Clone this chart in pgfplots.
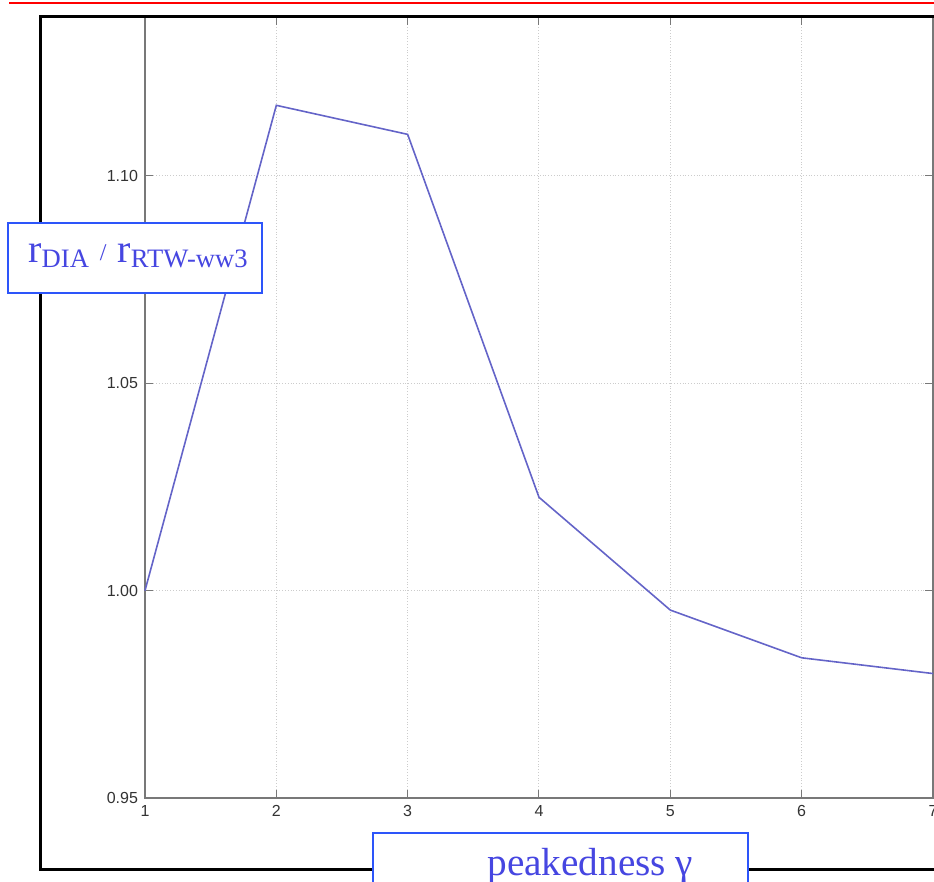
\documentclass[border=0pt]{standalone}
\usepackage{pgfplots}
\pgfplotsset{compat=1.18}
\usepackage{fontspec}
\setmainfont{Liberation Serif}
\setsansfont{Liberation Sans}

\definecolor{curve}{RGB}{100,100,200}
\definecolor{labeltext}{RGB}{70,70,225}
\definecolor{boxedge}{RGB}{45,85,250}
\definecolor{axisgray}{RGB}{120,120,120}

\newcommand{\lbl}[1]{{\fontsize{20}{20}\selectfont #1}}
\newcommand{\sub}[1]{\raisebox{-2.5pt}{\fontsize{13.3}{13.3}\selectfont #1}}

\begin{document}
\begin{tikzpicture}
\useasboundingbox (0,0) rectangle (467pt,441pt);
\clip (0,0) rectangle (467pt,441pt);

\begin{axis}[
  at={(72.5pt,42pt)}, anchor=south west,
  scale only axis, width=394pt, height=390.5pt,
  xmin=1, xmax=7, ymin=0.95, ymax=1.1383,
  xtick={1,2,...,7},
  ytick={0.95,1.00,1.05,1.10},
  yticklabel style={/pgf/number format/.cd, fixed, fixed zerofill, precision=2},
  /pgf/number format/assume math mode=true,
  ticklabel style={font=\sffamily\fontsize{8}{8}\selectfont, text=black!80},
  tick align=inside, major tick length=4pt,
  tick style={axisgray, line width=0.5pt},
  axis line style={axisgray, line width=0.6pt},
  grid=major,
  major grid style={gray!40, densely dotted, line width=0.5pt},
  clip=false,
]
\addplot[curve, line width=0.8pt] coordinates {
  (1,1.000) (2,1.117) (3,1.110) (4,1.0225) (5,0.9953) (6,0.9838) (7,0.9800)
};
\end{axis}

\begin{scope}[x=0.5pt, y=-0.5pt, yshift=441pt]
  % page rule and outer frame
  \draw[red, line width=1pt] (9,3) -- (1000,3);
  \draw[black, line width=1.5pt] (40,17) rectangle (1000,870);
  % ratio label
  \draw[boxedge, line width=1pt, fill=white] (8,223) rectangle (262,293);
  \node[anchor=base west, inner sep=0pt, text=labeltext] at (28,263)
    {\lbl{r}\sub{DIA}\hspace{5.5pt}\raisebox{1pt}{\fontsize{12}{12}\selectfont /}\hspace{5.5pt}\lbl{r}\sub{RTW-ww3}};
  % x label
  \draw[boxedge, line width=1pt, fill=white] (373,833) rectangle (748,920);
  \node[anchor=base west, inner sep=0pt, text=labeltext] at (487,876)
    {\fontsize{19.6}{19.6}\selectfont peakedness γ};
\end{scope}
\end{tikzpicture}
\end{document}
